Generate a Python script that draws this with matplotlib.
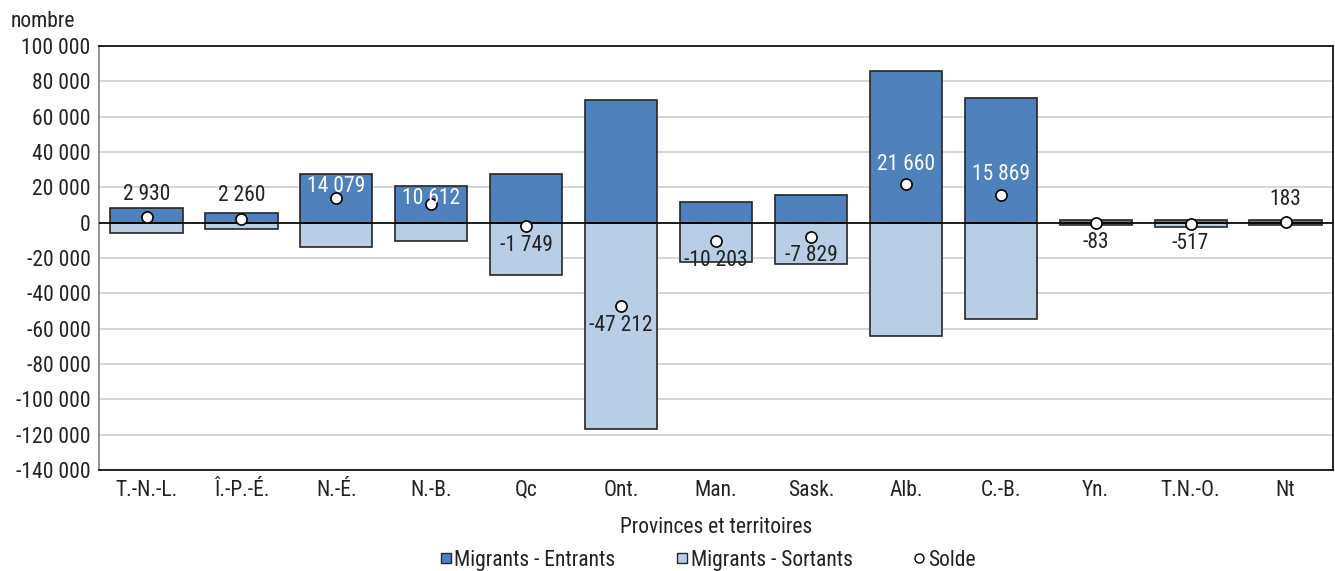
import numpy as np
import matplotlib
matplotlib.use("Agg")
import matplotlib.pyplot as plt
from matplotlib.ticker import FuncFormatter, MultipleLocator
from matplotlib.lines import Line2D

provinces = ["T.-N.-L.", "Î.-P.-É.", "N.-É.", "N.-B.", "Qc", "Ont.", "Man.",
             "Sask.", "Alb.", "C.-B.", "Yn.", "T.N.-O.", "Nt"]
solde = [2930, 2260, 14079, 10612, -1749, -47212, -10203, -7829, 21660, 15869, -83, -517, 183]
entrants = [8500, 5700, 27700, 20900, 27700, 69500, 11900, 15800, 85900, 70600, 1400, 1700, 1300]
sortants = [e - s for e, s in zip(entrants, solde)]

DARK = "#4F81BD"
LIGHT = "#B9CDE5"
EDGE = "#262626"
TXT = "#222222"
FS = 15.5

plt.rcParams['font.family'] = ['Roboto Condensed', 'DejaVu Sans']
plt.rcParams['font.size'] = FS

def fmt(v):
    s = f"{abs(int(round(v))):,}".replace(",", " ")
    return ("-" if v < 0 else "") + s

fig = plt.figure(figsize=(13.35, 5.71), dpi=100)
ax = fig.add_axes([0.0742, 0.1769, 0.9243, 0.7425])

x = np.arange(len(provinces))
w = 0.76
ax.bar(x, entrants, width=w, color=DARK, edgecolor=EDGE, lw=1.2, zorder=2)
ax.bar(x, [-v for v in sortants], width=w, color=LIGHT, edgecolor=EDGE, lw=1.2, zorder=2)
ax.axhline(0, color="black", lw=1.2, zorder=3)
ax.plot(x, solde, 'o', ms=8, mfc="white", mec="black", mew=1.2, ls="none", zorder=4)

# étiquettes du solde : blanc dans la barre foncée, sinon gris foncé
for i, s in enumerate(solde):
    if s >= 0:
        inside = entrants[i] - s > 8000
        if inside:
            ylab = min(s + 11300, entrants[i] - 7200)
            ax.text(x[i], ylab, fmt(s), ha="center", va="center", color="white",
                    fontsize=FS, zorder=5)
        else:
            ax.annotate(fmt(s), (x[i], s), xytext=(0, 16.5), textcoords="offset points",
                        ha="center", va="center", color=TXT, fontsize=FS, zorder=5)
    else:
        ax.annotate(fmt(s), (x[i], s), xytext=(0, -14), textcoords="offset points",
                    ha="center", va="center", color=TXT, fontsize=FS, zorder=5)

ax.set_xlim(-0.5, len(provinces) - 0.5)
ax.set_ylim(-140000, 100000)
ax.yaxis.set_major_locator(MultipleLocator(20000))
ax.yaxis.set_major_formatter(FuncFormatter(lambda v, p: fmt(v)))
ax.set_xticks(x)
ax.set_xticklabels(provinces)
ax.tick_params(length=0, colors=TXT, labelsize=FS)
ax.tick_params(axis="x", pad=7)
ax.tick_params(axis="y", pad=6)
ax.grid(axis="y", color="#D0D0D0", lw=1.2, zorder=0)
ax.set_axisbelow(True)
for side in ["top", "right", "bottom"]:
    ax.spines[side].set_color("black")
    ax.spines[side].set_linewidth(1.2)
ax.spines["left"].set_color("#808080")
ax.spines["left"].set_linewidth(1.2)

ax.set_xlabel("Provinces et territoires", color=TXT, fontsize=FS, labelpad=12)
fig.text(0.008, 0.962, "nombre", color=TXT, fontsize=FS, ha="left", va="center")

handles = [
    Line2D([], [], marker="s", ls="none", mfc=DARK, mec=EDGE, ms=7.5),
    Line2D([], [], marker="s", ls="none", mfc=LIGHT, mec=EDGE, ms=7.5),
    Line2D([], [], marker="o", ls="none", mfc="white", mec="black", ms=6.5),
]
fig.legend(handles, ["Migrants - Entrants", "Migrants - Sortants", "Solde"],
           loc="center", bbox_to_anchor=(0.529, 0.019), ncol=3, frameon=False,
           handletextpad=0.0, handlelength=0.8, columnspacing=2.7,
           fontsize=FS, labelcolor=TXT)

fig.savefig("out.png", dpi=100)
